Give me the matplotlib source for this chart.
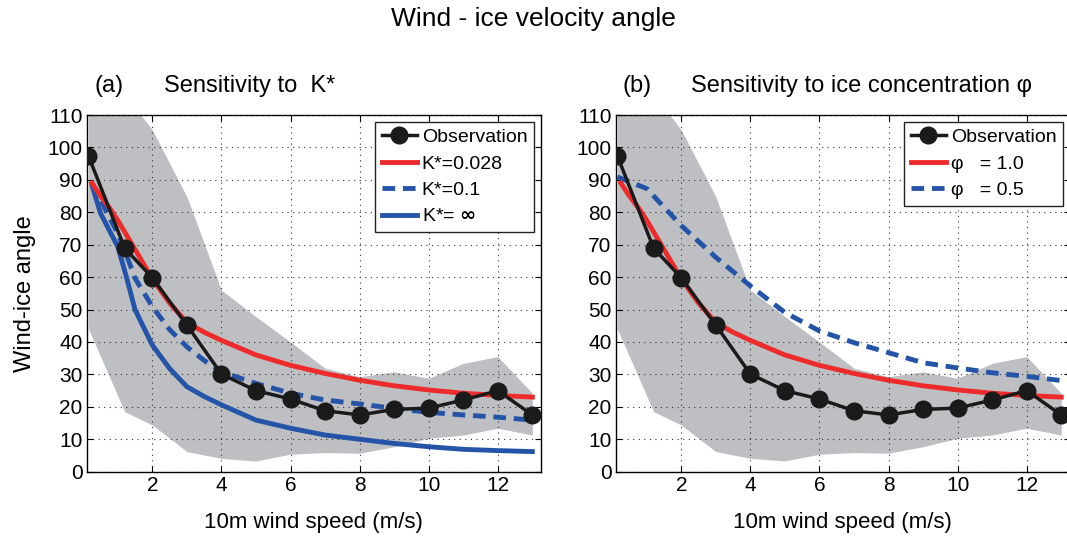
import numpy as np
import matplotlib.pyplot as plt

plt.rcParams['font.family'] = ['Liberation Sans', 'DejaVu Sans']

# observations (binned by wind speed)
obs_x = [0.15, 1.2, 2, 3, 4, 5, 6, 7, 8, 9, 10, 11, 12, 13]
obs_y = [97.4, 68.9, 59.8, 45.2, 30.1, 25.0, 22.4, 18.8, 17.5, 19.2, 19.6, 22.1, 25.0, 17.5]
band_hi = [125, 116.5, 105.4, 84.8, 56, 47.8, 40, 31.9, 29.3, 30.8, 28.8, 33.4, 35.5, 24.2]
band_lo = [44, 18.5, 14.4, 6.2, 4.1, 3.3, 5.4, 5.9, 5.7, 7.7, 10.3, 11.3, 13.4, 11.3]

# model curves
mod_x = [0.25, 0.5, 0.75, 1.0, 1.25, 1.5, 2, 2.5, 3, 3.5, 4, 5, 6, 7, 8, 9, 10, 11, 12, 13]
k028 = [89, 85, 81.5, 77.5, 73, 68.5, 59.5, 52, 46, 43, 40.5, 36, 32.8, 30.3, 28.2, 26.5, 25.2, 24.2, 23.5, 23]
k01 = [89, 83.8, 78.5, 73.5, 66.8, 59.6, 50.9, 43.8, 38.5, 34.3, 30.8, 27.2, 24.2, 22.1, 20.9, 19.5, 18.3, 17.5, 16.8, 15.9]
kinf = [88.4, 79.7, 74.5, 69.4, 60, 49.9, 39, 31.8, 26.2, 23.2, 20.6, 15.9, 13.4, 11.3, 10, 8.7, 7.7, 6.9, 6.5, 6.2]
phi05_x = [0.15, 1, 2, 3, 4, 5, 6, 7, 8, 9, 10, 11, 12, 13]
phi05 = [90.9, 87.3, 75.9, 66.1, 57.3, 49.1, 43.4, 39.8, 36.7, 33.6, 32, 30.5, 29.4, 28.1]

red = '#ee2b2b'
blue = '#2454a8'
grey = '#bdbfc3'

fig = plt.figure(figsize=(10.67, 5.36), dpi=100)
ax1 = fig.add_axes([0.0813, 0.120, 0.4257, 0.6654])
ax2 = fig.add_axes([0.5770, 0.120, 0.4257, 0.6654])

for ax in (ax1, ax2):
    ax.fill_between(obs_x, band_lo, band_hi, color=grey, lw=0, zorder=1)

ax1.plot(obs_x, obs_y, '-o', color='#1a1a1a', lw=2.5, ms=12, zorder=5, label='Observation')
ax1.plot(mod_x, k028, color=red, lw=3.5, zorder=4, label='K*=0.028')
ax1.plot(mod_x, k01, '--', color=blue, lw=3.5, dashes=(2.6, 1.6), zorder=3, label='K*=0.1')
ax1.plot(mod_x, kinf, color=blue, lw=3.5, zorder=3, label='K*= $\\mathbf{\\infty}$')

ax2.plot(obs_x, obs_y, '-o', color='#1a1a1a', lw=2.5, ms=12, zorder=5, label='Observation')
ax2.plot(mod_x, k028, color=red, lw=3.5, zorder=4, label='\u03c6   = 1.0')
ax2.plot(phi05_x, phi05, '--', color=blue, lw=3.5, dashes=(2.6, 1.6), zorder=3, label='\u03c6   = 0.5')

for ax in (ax1, ax2):
    ax.set_xlim(0.1, 13.25)
    ax.set_ylim(0, 110)
    ax.set_xticks([2, 4, 6, 8, 10, 12])
    ax.set_yticks(np.arange(0, 111, 10))
    ax.tick_params(direction='in', labelsize=15, length=4, top=True, right=True, pad=3)
    ax.grid(True, ls=(0, (1, 4)), color='#333333', lw=0.8)
    ax.set_axisbelow(False)
    for s in ax.spines.values():
        s.set_linewidth(1.0)
    ax.set_xlabel('10m wind speed (m/s)', fontsize=16, labelpad=12)
    leg = ax.legend(loc='upper right', fontsize=14, handlelength=1.8, handletextpad=0.25,
                    borderpad=0.35, labelspacing=0.45, fancybox=False, framealpha=1,
                    edgecolor='#222222', borderaxespad=0.35)
    leg.get_frame().set_linewidth(1.0)

ax1.set_ylabel('Wind-ice angle', fontsize=17, labelpad=8)

fig.text(0.5, 0.965, 'Wind - ice velocity angle', ha='center', va='center', fontsize=19)
fig.text(0.089, 0.840, '(a)', ha='left', va='center', fontsize=17)
fig.text(0.154, 0.840, 'Sensitivity to  K*', ha='left', va='center', fontsize=17)
fig.text(0.583, 0.840, '(b)', ha='left', va='center', fontsize=17)
fig.text(0.648, 0.840, 'Sensitivity to ice concentration \u03c6', ha='left', va='center', fontsize=17)

fig.savefig('out.png', dpi=100)
